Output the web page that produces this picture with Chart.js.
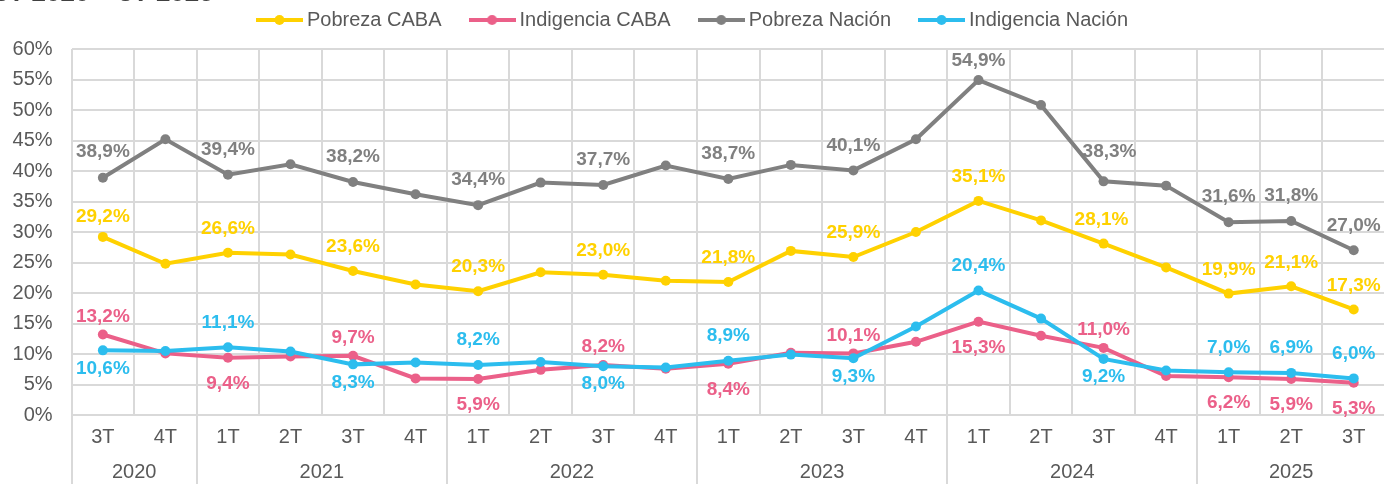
<!DOCTYPE html>
<html lang="es">
<head>
<meta charset="utf-8">
<title>Pobreza e indigencia CABA / Nación</title>
<script src="https://cdn.jsdelivr.net/npm/chart.js@4.4.1/dist/chart.umd.min.js"></script>
<style>
  html, body { margin: 0; padding: 0; background: #ffffff; overflow: hidden; }
  #wrap { width: 1390px; height: 484px; position: relative; }
</style>
</head>
<body>
<div id="wrap"><canvas id="grafico"></canvas></div>
<script>
const trimestres = ["3T", "4T", "1T", "2T", "3T", "4T", "1T", "2T", "3T", "4T", "1T", "2T", "3T", "4T", "1T", "2T", "3T", "4T", "1T", "2T", "3T"];
const anios = ["2020", "2021", "2022", "2023", "2024", "2025"];
const centrosAnios = [0.5, 3.5, 7.5, 11.5, 15.5, 19];
const limitesAnios = [-0.5, 1.5, 5.5, 9.5, 13.5, 17.5];

const pobrezaCaba = [29.2, 24.8, 26.6, 26.3, 23.6, 21.4, 20.3, 23.4, 23.0, 22.0, 21.8, 26.9, 25.9, 30.0, 35.1, 31.9, 28.1, 24.2, 19.9, 21.1, 17.3];
const indigenciaCaba = [13.2, 10.1, 9.4, 9.6, 9.7, 6.0, 5.9, 7.4, 8.2, 7.6, 8.4, 10.2, 10.1, 12.0, 15.3, 13.0, 11.0, 6.4, 6.2, 5.9, 5.3];
const pobrezaNacion = [38.9, 45.2, 39.4, 41.1, 38.2, 36.2, 34.4, 38.1, 37.7, 40.9, 38.7, 41.0, 40.1, 45.2, 54.9, 50.8, 38.3, 37.6, 31.6, 31.8, 27.0];
const indigenciaNacion = [10.6, 10.5, 11.1, 10.4, 8.3, 8.6, 8.2, 8.7, 8.0, 7.8, 8.9, 9.9, 9.3, 14.5, 20.4, 15.8, 9.2, 7.3, 7.0, 6.9, 6.0];

// puntos que llevan etiqueta y de qué lado (a = arriba, b = abajo)
const indicesEtiqueta = [0, 2, 4, 6, 8, 10, 12, 14, 16, 18, 19, 20];
const ladoPobrezaCaba = ["a", "a", "a", "a", "a", "a", "a", "a", "a", "a", "a", "a"];
const ladoIndigenciaCaba = ["a", "b", "a", "b", "a", "b", "a", "b", "a", "b", "b", "b"];
const ladoPobrezaNacion = ["a", "a", "a", "a", "a", "a", "a", "a", "a", "a", "a", "a"];
const ladoIndigenciaNacion = ["b", "a", "b", "a", "b", "a", "b", "a", "b", "a", "a", "a"];

const colores = ["#FFD100", "#EB6089", "#808080", "#2CBDEE"];
const separacion = [
  { a: 24, b: 24 },
  { a: 18, b: 26 },
  { a: 25, b: 25 },
  { a: 25, b: 18 }
];
// algunos rótulos van corridos a mano en el original
const ajustes = {
  "0-0": { dx: 0, dy: 4 },
  "2-0": { dx: 0, dy: -1 },
  "2-14": { dx: 0, dy: 6 },
  "2-16": { dx: 6, dy: -5 },
  "0-16": { dx: -2, dy: 0 }
};
const lados = [ladoPobrezaCaba, ladoIndigenciaCaba, ladoPobrezaNacion, ladoIndigenciaNacion];

const fuente = "'Liberation Sans', Arial, sans-serif";
const grisTexto = "#595959";
const grisGrilla = "#d9d9d9";

function marcadorLeyenda(color) {
  const c = document.createElement("canvas");
  c.width = 47;
  c.height = 12;
  const ctx = c.getContext("2d");
  ctx.strokeStyle = color;
  ctx.lineWidth = 4;
  ctx.beginPath();
  ctx.moveTo(0, 6);
  ctx.lineTo(47, 6);
  ctx.stroke();
  ctx.fillStyle = color;
  ctx.beginPath();
  ctx.arc(23.5, 6, 5, 0, Math.PI * 2);
  ctx.fill();
  return c;
}

function formatear(valor) {
  return valor.toFixed(1).replace(".", ",") + "%";
}

const pluginEtiquetas = {
  id: "etiquetas",
  beforeLayout(chart) {
    const leyenda = chart.legend;
    if (leyenda && !leyenda._ajustada) {
      const fitOriginal = leyenda.fit;
      leyenda.fit = function () {
        fitOriginal.call(this);
        this.height = 72;
      };
      leyenda._ajustada = true;
    }
  },
  afterDatasetsDraw(chart) {
    const ctx = chart.ctx;
    ctx.save();
    ctx.font = "bold 19px " + fuente;
    ctx.textAlign = "center";
    ctx.textBaseline = "middle";
    chart.data.datasets.forEach((ds, d) => {
      const meta = chart.getDatasetMeta(d);
      indicesEtiqueta.forEach((i, k) => {
        const punto = meta.data[i];
        const lado = lados[d][k];
        const aj = ajustes[d + "-" + i] || { dx: 0, dy: 0 };
        const dy = lado === "a" ? -separacion[d].a : separacion[d].b;
        ctx.fillStyle = colores[d];
        ctx.fillText(formatear(ds.data[i]), punto.x + aj.dx, punto.y + dy + aj.dy);
      });
    });
    ctx.restore();
  },
  afterDraw(chart) {
    const ctx = chart.ctx;
    const escalaAnios = chart.scales.anios;
    const area = chart.chartArea;
    ctx.save();
    ctx.strokeStyle = grisGrilla;
    ctx.lineWidth = 2;
    limitesAnios.forEach((v) => {
      const x = Math.round(escalaAnios.getPixelForValue(v));
      ctx.beginPath();
      ctx.moveTo(x, area.bottom);
      ctx.lineTo(x, chart.height);
      ctx.stroke();
    });
    ctx.fillStyle = "#404040";
    ctx.font = "bold 26px " + fuente;
    ctx.textAlign = "left";
    ctx.textBaseline = "alphabetic";
    ctx.fillText("3T 2020 \u2013 3T 2025", -6, 1);
    ctx.restore();
  }
};

const nombres = ["Pobreza CABA", "Indigencia CABA", "Pobreza Naci\u00f3n", "Indigencia Naci\u00f3n"];
const series = [pobrezaCaba, indigenciaCaba, pobrezaNacion, indigenciaNacion];
const ordenDibujo = [2, 3, 1, 0];

new Chart(document.getElementById("grafico"), {
  type: "line",
  data: {
    labels: trimestres,
    datasets: series.map((datos, d) => ({
      label: nombres[d],
      data: datos,
      borderColor: colores[d],
      backgroundColor: colores[d],
      borderWidth: 4,
      pointRadius: 5,
      pointBorderWidth: 0,
      pointBackgroundColor: colores[d],
      tension: 0,
      order: ordenDibujo[d]
    }))
  },
  options: {
    responsive: true,
    maintainAspectRatio: false,
    animation: false,
    layout: { padding: { top: -23, left: 0, right: 0, bottom: 0 } },
    plugins: {
      tooltip: { enabled: false },
      legend: {
        display: true,
        position: "top",
        labels: {
          usePointStyle: true,
          pointStyleWidth: 35,
          padding: 33,
          color: grisTexto,
          font: { family: fuente, size: 20 },
          sort: (a, b) => a.datasetIndex - b.datasetIndex,
          generateLabels(chart) {
            const items = Chart.defaults.plugins.legend.labels.generateLabels(chart);
            items.forEach((it) => {
              it.pointStyle = marcadorLeyenda(colores[it.datasetIndex]);
            });
            return items;
          }
        }
      }
    },
    scales: {
      x: {
        type: "category",
        offset: true,
        grid: { display: true, offset: true, color: grisGrilla, lineWidth: 2, drawTicks: false },
        border: { display: false },
        ticks: {
          color: grisTexto,
          font: { family: fuente, size: 20 },
          padding: 10,
          maxRotation: 0,
          autoSkip: false
        },
        afterFit(scale) { scale.height = 40; }
      },
      anios: {
        type: "linear",
        position: "bottom",
        axis: "x",
        min: -0.5,
        max: 20.5,
        bounds: "data",
        grid: { display: false, drawTicks: false },
        border: { display: false },
        afterBuildTicks(scale) {
          scale.ticks = centrosAnios.map((v) => ({ value: v }));
        },
        ticks: {
          color: grisTexto,
          font: { family: fuente, size: 20 },
          padding: 5,
          maxRotation: 0,
          autoSkip: false,
          callback: (valor, indice) => anios[indice]
        },
        afterFit(scale) { scale.height = 29; }
      },
      y: {
        min: 0,
        max: 60,
        grid: { color: grisGrilla, lineWidth: 2, drawTicks: false },
        border: { display: false },
        ticks: {
          stepSize: 5,
          color: grisTexto,
          font: { family: fuente, size: 20 },
          padding: 19,
          callback: (v) => v + "%"
        },
        afterFit(scale) { scale.width = 71.6; }
      }
    }
  },
  plugins: [pluginEtiquetas]
});
</script>
</body>
</html>
